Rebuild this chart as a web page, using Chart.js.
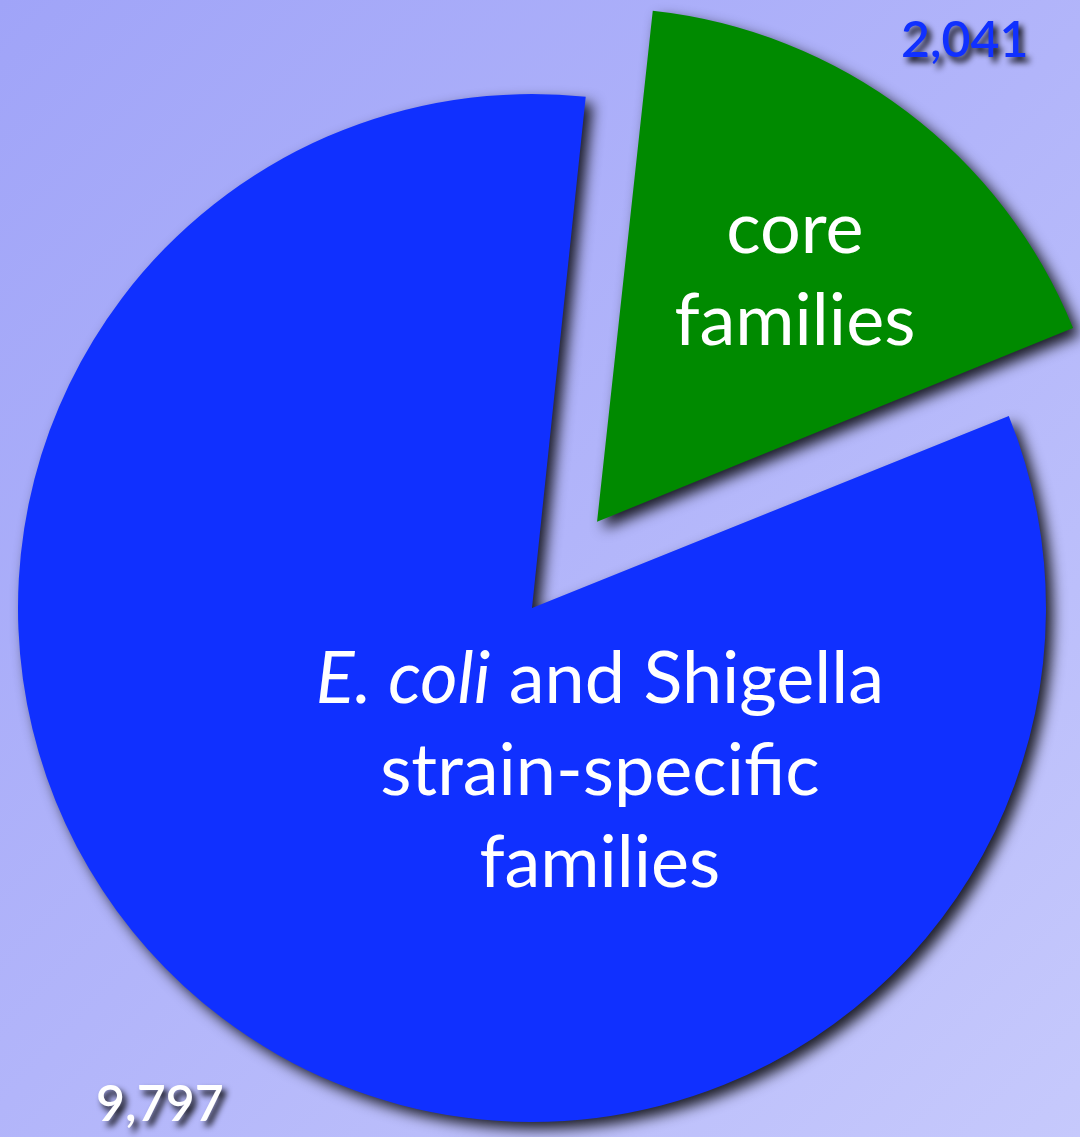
<!DOCTYPE html>
<html>
<head>
<meta charset="utf-8">
<script src="https://cdn.jsdelivr.net/npm/chart.js@4.4.1/dist/chart.umd.min.js"></script>
<style>
  html, body { margin: 0; padding: 0; }
  body {
    width: 1080px; height: 1137px; overflow: hidden;
    background: linear-gradient(135deg, #a0a4f8 0%, #b2b5fa 50%, #c6c9fc 100%);
  }
  canvas { display: block; }
</style>
</head>
<body>
<canvas id="pie" width="1080" height="1137"></canvas>
<script>
// Gene family counts in the E. coli / Shigella pan-genome
const categories = ['core families', 'E. coli and Shigella strain-specific families'];
const familyCounts = [2041, 9797];
const countLabels = ['2,041', '9,797'];
const sliceColors = ['#008a00', '#1030ff'];
const countColors = ['#1030ff', '#ffffff'];

// text written inside each slice, one entry per line; runs with italic=true are set in italics
const sliceText = [
  [[{ t: 'core' }], [{ t: 'families' }]],
  [[{ t: 'E. coli', italic: true }, { t: ' and Shigella' }], [{ t: 'strain-specific' }], [{ t: 'families' }]]
];

// layout settings (fractions of the pie radius)
const PIE_RADIUS = 514;
const CORE_OFFSET = 432;              // arc offset (library translates by offset / 4)
const textAnchors = [[0.385, -0.523], [0.132, 0.185]];   // first-line baseline, relative to slice tip
const countAnchors = [[0.842, -1.072], [-0.724, 0.998]]; // centre-bottom of count labels, relative to pie centre
const FONT = 'Lato, "Open Sans", sans-serif';

// keep the exploded slice the same radius as the rest of the pie
// (the arc element widens narrow offset slices by offset * (1 - sin(circumference)))
const equalRadiusPlugin = {
  id: 'equalRadius',
  afterDatasetUpdate(chart, args) {
    args.meta.data.forEach(arc => {
      const shift = (arc.options.offset || 0) / 4;
      const fix = 1 - Math.sin(Math.min(Math.PI, arc.circumference || 0));
      arc.outerRadius -= shift * fix;
    });
  }
};

const shadowPlugin = {
  id: 'sliceShadow',
  beforeDatasetsDraw(chart) {
    const ctx = chart.ctx;
    ctx.save();
    ctx.shadowColor = 'rgba(0,0,0,0.85)';
    ctx.shadowBlur = 14;
    ctx.shadowOffsetX = 7;
    ctx.shadowOffsetY = 7;
  },
  afterDatasetsDraw(chart) {
    chart.ctx.restore();
  }
};

function drawRuns(ctx, runs, cx, y, size) {
  const fonts = runs.map(r => (r.italic ? 'italic ' : '') + size + 'px ' + FONT);
  let total = 0;
  const widths = runs.map((r, i) => { ctx.font = fonts[i]; const w = ctx.measureText(r.t).width; total += w; return w; });
  let x = cx - total / 2;
  runs.forEach((r, i) => { ctx.font = fonts[i]; ctx.fillText(r.t, x, y); x += widths[i]; });
}

const labelPlugin = {
  id: 'sliceLabels',
  afterDatasetsDraw(chart) {
    const ctx = chart.ctx;
    const meta = chart.getDatasetMeta(0);
    ctx.save();
    ctx.textBaseline = 'alphabetic';
    ctx.textAlign = 'left';
    meta.data.forEach((arc, i) => {
      const mid = (arc.startAngle + arc.endAngle) / 2;
      const shift = (arc.options.offset || 0) / 4;
      const tipX = arc.x + Math.cos(mid) * shift;
      const tipY = arc.y + Math.sin(mid) * shift;
      ctx.fillStyle = '#ffffff';
      const lines = sliceText[i];
      lines.forEach((runs, li) => {
        drawRuns(ctx, runs, tipX + textAnchors[i][0] * PIE_RADIUS, tipY + textAnchors[i][1] * PIE_RADIUS + li * 92, 72);
      });
    });
    // value labels with drop shadow
    meta.data.forEach((arc, i) => {
      ctx.save();
      ctx.font = '600 50px ' + FONT;
      ctx.textAlign = 'center';
      ctx.shadowColor = 'rgba(0,0,0,0.95)';
      ctx.shadowBlur = 6;
      ctx.shadowOffsetX = 4;
      ctx.shadowOffsetY = 5;
      ctx.fillStyle = countColors[i];
      ctx.fillText(countLabels[i], arc.x + countAnchors[i][0] * PIE_RADIUS, arc.y + countAnchors[i][1] * PIE_RADIUS);
      ctx.restore();
    });
    ctx.restore();
  }
};

new Chart(document.getElementById('pie'), {
  type: 'pie',
  data: {
    labels: categories,
    datasets: [{
      data: familyCounts,
      backgroundColor: sliceColors,
      borderWidth: 0,
      offset: [CORE_OFFSET, 0]
    }]
  },
  options: {
    responsive: false,
    devicePixelRatio: 1,
    animation: false,
    rotation: 6,
    radius: PIE_RADIUS,
    layout: { padding: { left: 0, right: 16, top: 79, bottom: 0 } },
    plugins: { legend: { display: false }, tooltip: { enabled: false } },
    events: []
  },
  plugins: [equalRadiusPlugin, shadowPlugin, labelPlugin]
});
</script>
</body>
</html>
